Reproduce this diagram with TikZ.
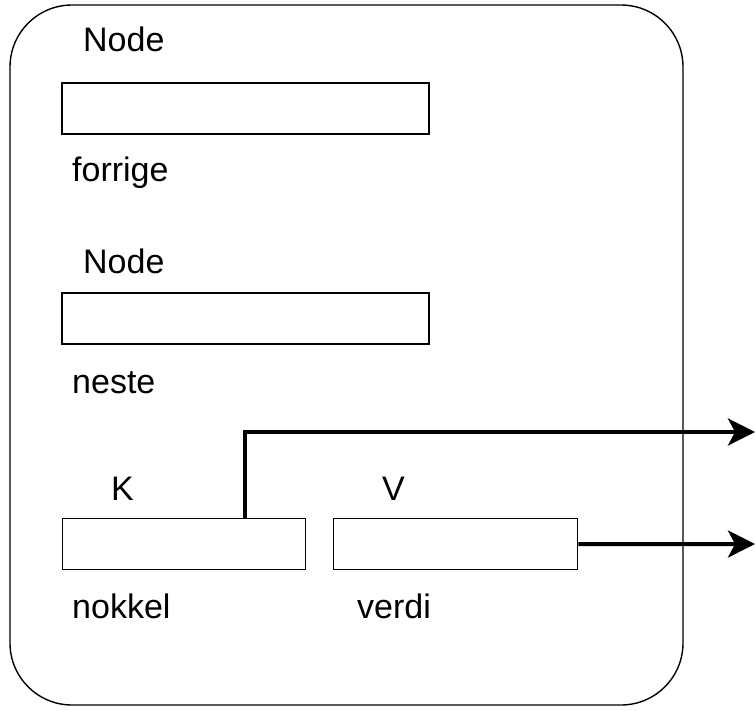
\documentclass[tikz,border=0pt]{standalone}
\usepackage{fontspec}
\setmainfont{Liberation Sans}
\usetikzlibrary{arrows.meta}
\begin{document}
\begin{tikzpicture}[x=1pt,y=-1pt,
  field/.style={draw, line width=1.4pt},
  lbl/.style={inner sep=0pt, anchor=base west, font=\fontsize{34}{37}\selectfont},
  ptr/.style={line width=4pt, -{Stealth[length=27pt,width=27pt,inset=7pt]}}]
\useasboundingbox (0,0) rectangle (755,710);
\draw[line width=1.4pt, rounded corners=62pt] (10,5) rectangle (683,705);
\node[lbl] (n1) at (83,51) {Node};
\draw[field] (62,83) rectangle (429,134);
\node[lbl] (forrige) at (72,181) {forrige};
\node[lbl] (n2) at (83,273) {Node};
\draw[field] (62,293) rectangle (429,344);
\node[lbl] (neste) at (72,393) {neste};
\node[lbl] (k) at (111,500) {K};
\node[lbl] (v) at (382,500) {V};
\node[field, inner sep=0pt, minimum width=243pt, minimum height=51pt, anchor=north west] (kbox) at (62,518) {};
\node[field, inner sep=0pt, minimum width=244pt, minimum height=51pt, anchor=north west] (vbox) at (333,518) {};
\node[lbl] (nokkel) at (72,618) {nokkel};
\node[lbl] (verdi) at (357,618) {verdi};
\coordinate (e1) at (755,432);
\coordinate (e2) at (755,544);
\coordinate (b1) at (245,518);
\draw[ptr] (b1) |- (e1);
\draw[ptr] (vbox.east) -- (e2);
\end{tikzpicture}
\end{document}
